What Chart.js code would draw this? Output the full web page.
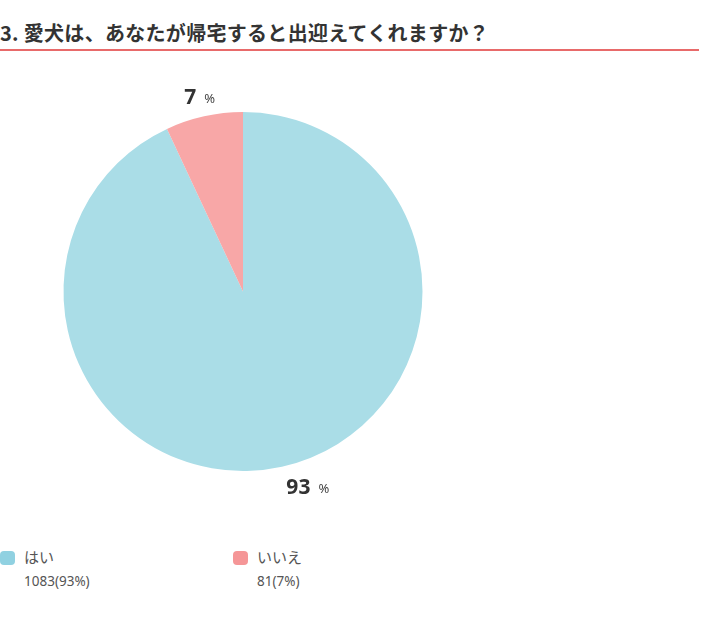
<!DOCTYPE html>
<html>
<head>
<meta charset="utf-8">
<script src="https://cdn.jsdelivr.net/npm/chart.js@4/dist/chart.umd.min.js"></script>
<style>
  html, body { margin: 0; padding: 0; background: #fff; }
  body { width: 710px; height: 627px; position: relative; overflow: hidden; font-family: "Noto Sans CJK JP", "Noto Sans", sans-serif; }
  #title { position: absolute; left: 0; top: 20px; font-size: 20px; font-weight: bold; color: #333; letter-spacing: 0.3px; white-space: nowrap; line-height: 26px; }
  #rule { position: absolute; left: 0; top: 49px; width: 699px; height: 2px; background: #e86a6a; }
  #wrap { position: absolute; left: 0; top: 72px; width: 486px; height: 439px; }
  .leg { position: absolute; top: 549px; }
  .sw { position: absolute; left: 0; top: 2px; width: 15px; height: 14px; border-radius: 4px; }
  .lab { position: absolute; left: 24px; top: -3px; font-size: 15px; color: #555; white-space: nowrap; }
  .cnt { position: absolute; left: 24px; top: 23px; font-size: 13.5px; color: #555; white-space: nowrap; font-family: "Noto Sans", sans-serif; }
</style>
</head>
<body>
<div id="title">3. 愛犬は、あなたが帰宅すると出迎えてくれますか？</div>
<div id="rule"></div>
<div id="wrap"><canvas id="c"></canvas></div>
<div id="legend"></div>
<script>
const titleText = "3. 愛犬は、あなたが帰宅すると出迎えてくれますか？";
const categories = ["はい", "いいえ"];
const counts = [1083, 81];
const percents = [93, 7];
const sliceColors = ["#aadde7", "#f8a7a7"];
const swatchColors = ["#90d1e1", "#f59697"];

document.getElementById('title').textContent = titleText;

const legend = document.getElementById('legend');
const legendX = [0, 233];
categories.forEach((c, i) => {
  const d = document.createElement('div');
  d.className = 'leg';
  d.style.left = legendX[i] + 'px';
  d.innerHTML = '<div class="sw" style="background:' + swatchColors[i] + '"></div>' +
    '<div class="lab">' + c + '</div>' +
    '<div class="cnt">' + counts[i] + '(' + percents[i] + '%)</div>';
  legend.appendChild(d);
});

const labelPlugin = {
  id: 'pctLabels',
  afterDatasetsDraw(chart) {
    const ctx = chart.ctx;
    const meta = chart.getDatasetMeta(0);
    meta.data.forEach((arc, i) => {
      const mid = (arc.startAngle + arc.endAngle) / 2;
      const r = arc.outerRadius * 1.114;
      const x = arc.x + Math.cos(mid) * r;
      const y = arc.y + Math.sin(mid) * r;
      const num = String(percents[i]);
      ctx.save();
      ctx.textBaseline = 'alphabetic';
      ctx.font = 'bold 21px "Noto Sans", sans-serif';
      const wNum = ctx.measureText(num).width;
      ctx.font = '13px "Noto Sans", sans-serif';
      const wPct = ctx.measureText('%').width;
      const gap = 8;
      const total = wNum + gap + wPct;
      let left = (x > arc.x + 1) ? x : x - total / 2;
      const base = y + 7.5;
      ctx.fillStyle = '#333';
      ctx.font = 'bold 21px "Noto Sans", sans-serif';
      ctx.fillText(num, left, base);
      ctx.font = '13px "Noto Sans", sans-serif';
      ctx.fillStyle = '#444';
      ctx.fillText('%', left + wNum + gap, base - 1);
      ctx.restore();
    });
  }
};

new Chart(document.getElementById('c'), {
  type: 'pie',
  data: {
    labels: categories,
    datasets: [{
      data: counts,
      backgroundColor: sliceColors,
      borderWidth: 0
    }]
  },
  options: {
    responsive: true,
    maintainAspectRatio: false,
    animation: false,
    layout: { padding: 40 },
    plugins: {
      legend: { display: false },
      tooltip: { enabled: false },
      title: { display: false }
    }
  },
  plugins: [labelPlugin]
});
</script>
</body>
</html>
